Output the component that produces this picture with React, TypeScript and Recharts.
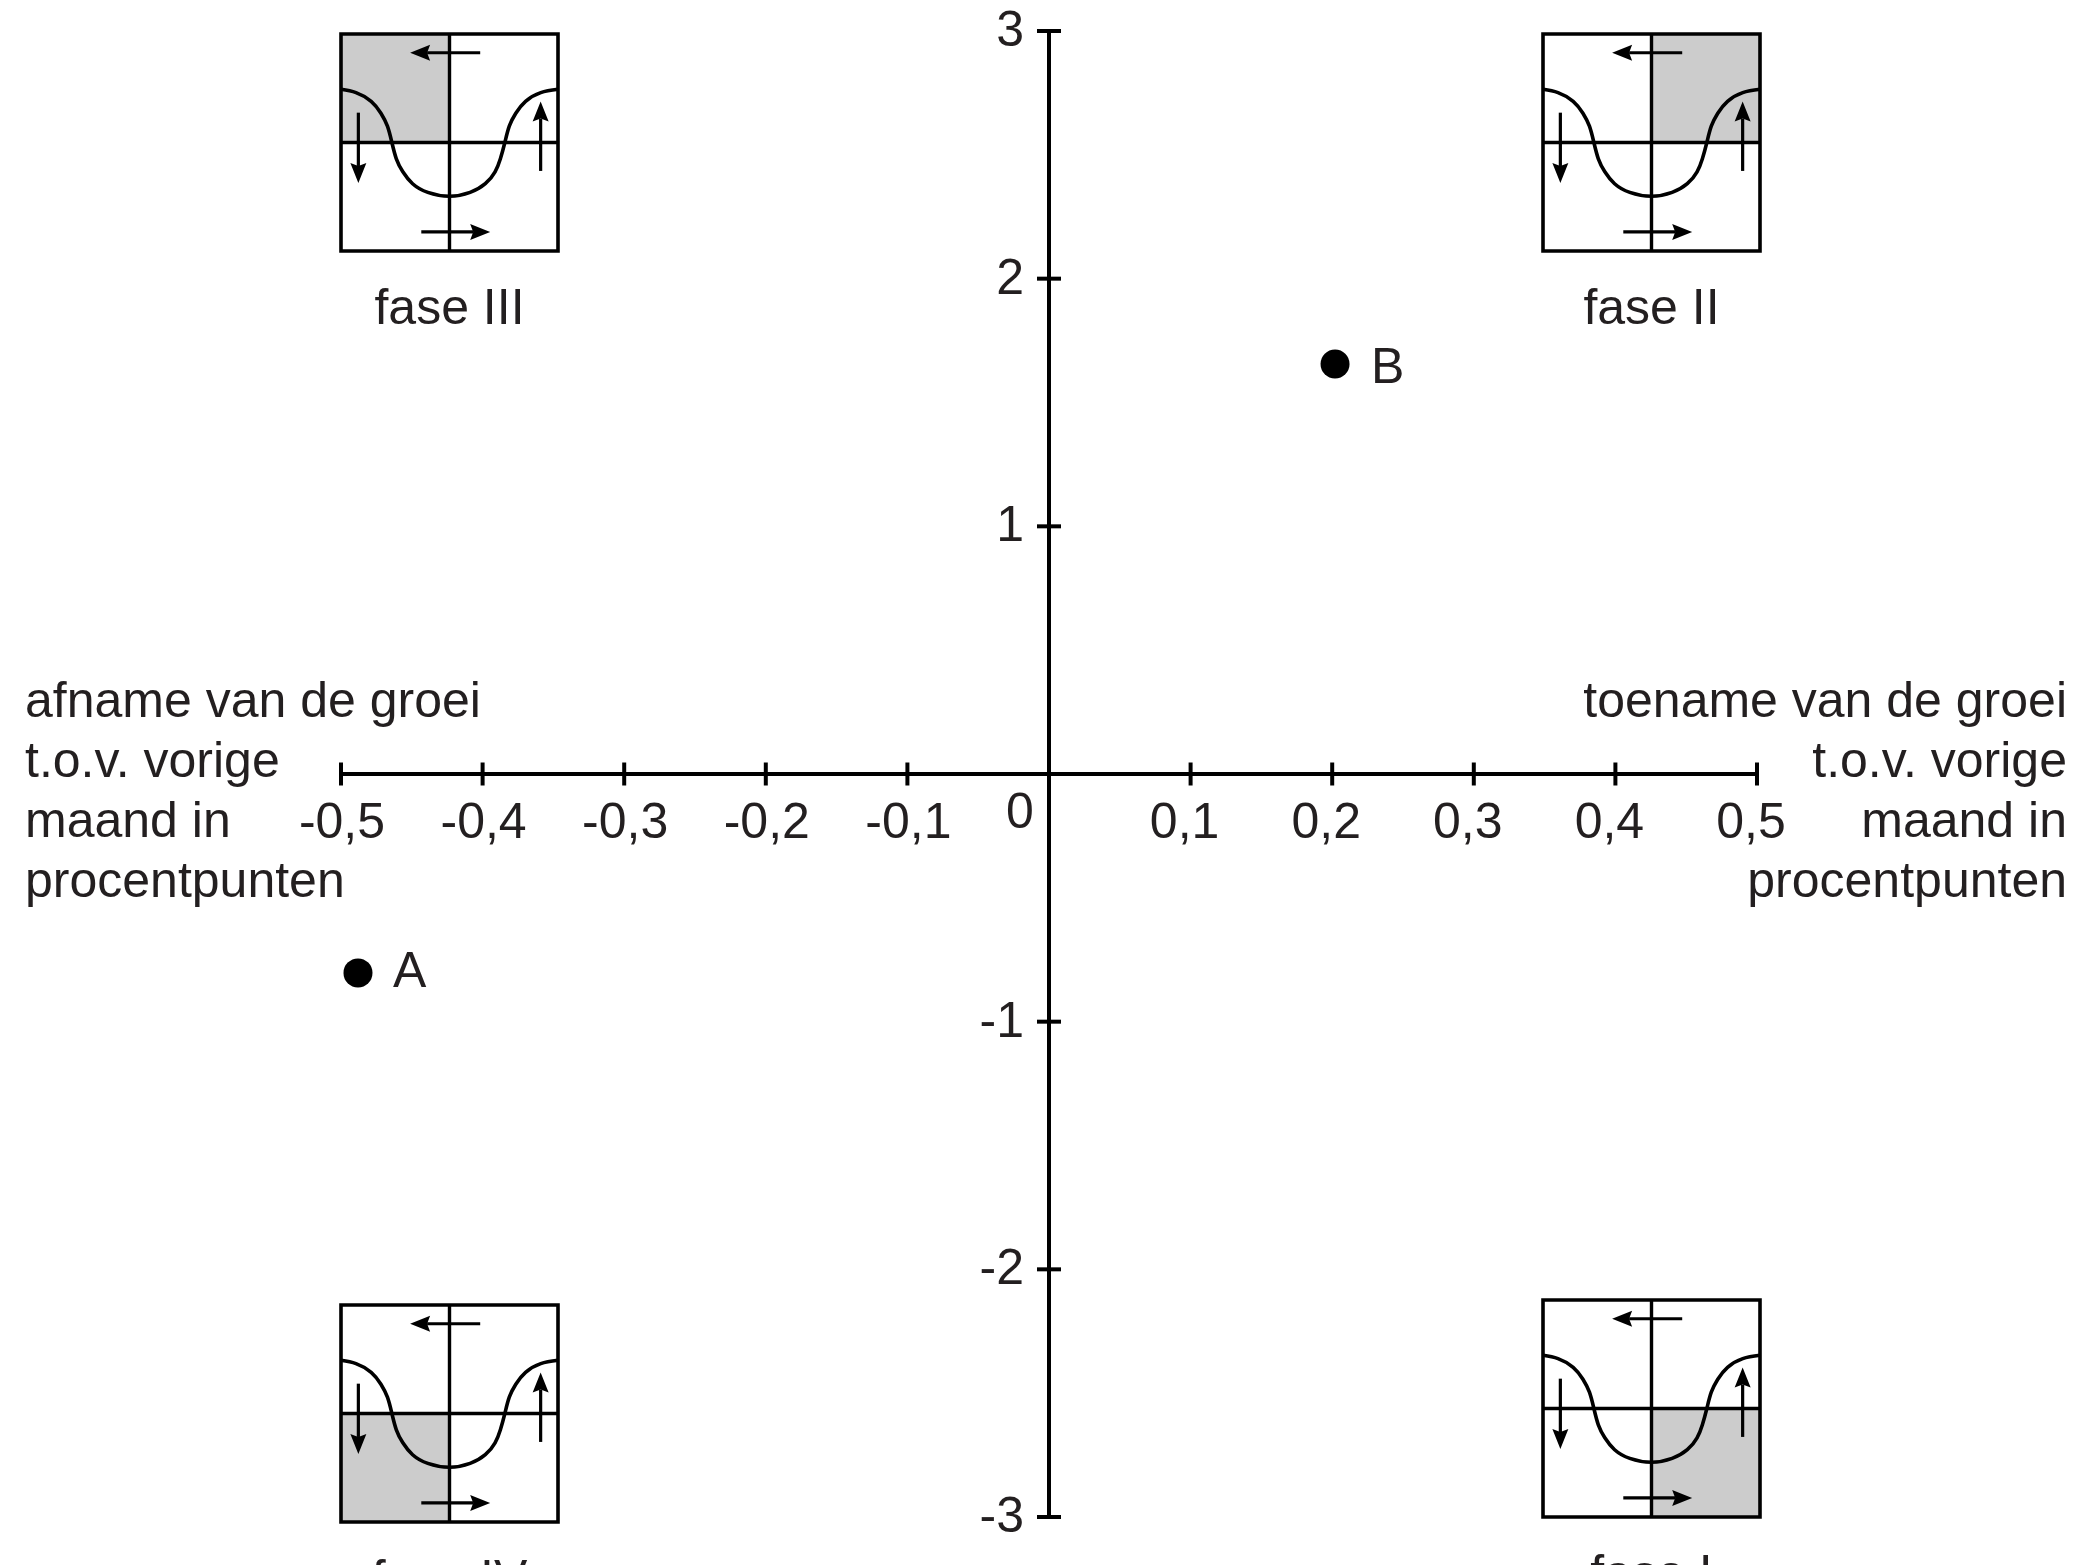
import React from 'react';
import {
  ScatterChart,
  Scatter,
  LineChart,
  Line,
  XAxis,
  YAxis,
  ReferenceLine,
  ReferenceArea,
} from 'recharts';

const xTicks = [-0.5, -0.4, -0.3, -0.2, -0.1, 0, 0.1, 0.2, 0.3, 0.4, 0.5];
const yTicks = [-3, -2, -1, 1, 2, 3];

const pointA = [{ x: -0.488, y: -0.803, name: 'A' }];
const pointB = [{ x: 0.202, y: 1.655, name: 'B' }];

const leftNote = ['afname van de groei', 't.o.v. vorige', 'maand in', 'procentpunten'];
const rightNote = ['toename van de groei', 't.o.v. vorige', 'maand in', 'procentpunten'];

// cycle curve in the small phase diagrams
const curveX = [-1, -0.862, -0.722, -0.632, -0.572, -0.531, -0.49, -0.43, -0.34, -0.2, 0, 0.19, 0.33, 0.42, 0.469, 0.51, 0.551, 0.611, 0.701, 0.841, 1];
const curveY = [0.49, 0.46, 0.38, 0.27, 0.15, 0, -0.15, -0.27, -0.38, -0.46, -0.495, -0.46, -0.38, -0.27, -0.15, 0, 0.15, 0.27, 0.38, 0.46, 0.49];
const curveData = curveX.map((x, i) => ({ x, y: curveY[i] }));

// the four arrows round the cycle: [x1, y1, x2, y2]
const arrows = [
  [0.283, 0.827, -0.363, 0.827],
  [-0.26, -0.824, 0.375, -0.824],
  [-0.84, 0.275, -0.84, -0.373],
  [0.84, -0.262, 0.84, 0.377],
];

const phases = [
  { name: 'fase III', left: 341, top: 34, x: [-1, 0], y: [0, 1] },
  { name: 'fase II', left: 1543, top: 34, x: [0, 1], y: [0, 1] },
  { name: 'fase IV', left: 341, top: 1305, x: [-1, 0], y: [-1, 0] },
  { name: 'fase I', left: 1543, top: 1300, x: [0, 1], y: [-1, 0] },
];

const WIDTH = 2081;
const HEIGHT = 1565;
const PLOT = { left: 341, top: 31, width: 1416, height: 1486 };
const INK = '#000';
const TEXT = '#231f20';
const FONT = '"Liberation Sans", Arial, sans-serif';
const FONT_SIZE = 50;
const INSET = 217;
const INSET_PAD = 4;

const zeroX = PLOT.left + PLOT.width / 2;
const zeroY = PLOT.top + PLOT.height / 2;

const tickText = (v: number) => (v === 0 ? '0' : v.toFixed(1).replace('.', ','));

const XTick = ({ x, payload }: any) => {
  if (payload.value === 0) {
    return (
      <text x={x - 29} y={zeroY + 54} textAnchor="middle" fontFamily={FONT} fontSize={FONT_SIZE} fill={TEXT}>
        0
      </text>
    );
  }
  // labels right of zero sit a little left of their tick in the original
  const dx = payload.value > 0 ? -6 : 1;
  return (
    <g>
      <line x1={x} x2={x} y1={zeroY - 11.5} y2={zeroY + 11.5} stroke={INK} strokeWidth={4} />
      <text x={x + dx} y={zeroY + 64} textAnchor="middle" fontFamily={FONT} fontSize={FONT_SIZE} fill={TEXT}>
        {tickText(payload.value)}
      </text>
    </g>
  );
};

const YTick = ({ y, payload }: any) => (
  <g>
    <line x1={zeroX - 12} x2={zeroX + 12} y1={y} y2={y} stroke={INK} strokeWidth={4} />
    <text x={zeroX - 25} y={y + 15} textAnchor="end" fontFamily={FONT} fontSize={FONT_SIZE} fill={TEXT}>
      {payload.value}
    </text>
  </g>
);

const pointShape = (labelDx: number, labelDy: number) => (props: any) => {
  const { cx, cy, payload } = props;
  return (
    <g>
      <circle cx={cx} cy={cy} r={14.5} fill={INK} />
      <text x={cx + labelDx} y={cy + labelDy} fontFamily={FONT} fontSize={FONT_SIZE} fill={TEXT}>
        {payload.name}
      </text>
    </g>
  );
};

const Arrow = (props: any) => {
  const { x1, y1, x2, y2 } = props;
  const len = Math.hypot(x2 - x1, y2 - y1);
  const ux = (x2 - x1) / len;
  const uy = (y2 - y1) / len;
  const bx = x2 - ux * 20;
  const by = y2 - uy * 20;
  const nx = x2 - ux * 17;
  const ny = y2 - uy * 17;
  const head = `M${x2},${y2} L${bx - uy * 8},${by + ux * 8} L${nx},${ny} L${bx + uy * 8},${by - ux * 8} Z`;
  return (
    <g>
      <line x1={x1} y1={y1} x2={nx} y2={ny} stroke={INK} strokeWidth={3.2} />
      <path d={head} fill={INK} />
    </g>
  );
};

const PhaseDiagram = ({ phase }: { phase: (typeof phases)[number] }) => (
  <div style={{ position: 'absolute', left: phase.left - INSET_PAD, top: phase.top - INSET_PAD }}>
    <LineChart
      width={INSET + INSET_PAD * 2}
      height={INSET + INSET_PAD * 2}
      data={curveData}
      margin={{ top: INSET_PAD, right: INSET_PAD, bottom: INSET_PAD, left: INSET_PAD }}
    >
      <XAxis dataKey="x" type="number" domain={[-1, 1]} hide />
      <YAxis dataKey="y" type="number" domain={[-1, 1]} hide />
      <ReferenceArea x1={phase.x[0]} x2={phase.x[1]} y1={phase.y[0]} y2={phase.y[1]} fill="#cccccc" fillOpacity={1} stroke="none" />
      <ReferenceLine x={0} stroke={INK} strokeWidth={3.4} />
      <ReferenceLine y={0} stroke={INK} strokeWidth={3.4} />
      <ReferenceArea x1={-1} x2={1} y1={-1} y2={1} fill="none" stroke={INK} strokeWidth={3.6} ifOverflow="visible" />
      {arrows.map((a, i) => (
        <ReferenceLine
          key={i}
          segment={[
            { x: a[0], y: a[1] },
            { x: a[2], y: a[3] },
          ]}
          shape={Arrow}
        />
      ))}
      <Line dataKey="y" type="natural" stroke={INK} strokeWidth={3.6} dot={false} isAnimationActive={false} />
    </LineChart>
  </div>
);

export default function App() {
  return (
    <div style={{ position: 'absolute', left: 0, top: 0, width: WIDTH, height: HEIGHT, overflow: 'hidden', background: '#fff' }}>
      <ScatterChart
        width={WIDTH}
        height={HEIGHT}
        margin={{
          top: PLOT.top,
          left: PLOT.left - 1,
          right: WIDTH - PLOT.left - PLOT.width,
          bottom: HEIGHT - PLOT.top - PLOT.height - 1,
        }}
      >
        <XAxis
          dataKey="x"
          type="number"
          domain={[-0.5, 0.5]}
          ticks={xTicks}
          interval={0}
          height={1}
          axisLine={false}
          tickLine={false}
          tickSize={0}
          tick={XTick}
        />
        <YAxis
          dataKey="y"
          type="number"
          domain={[-3, 3]}
          ticks={yTicks}
          interval={0}
          width={1}
          axisLine={false}
          tickLine={false}
          tickSize={0}
          tick={YTick}
        />
        <ReferenceLine x={0} stroke={INK} strokeWidth={4} ifOverflow="visible" />
        <ReferenceLine y={0} stroke={INK} strokeWidth={4} ifOverflow="visible" />
        <Scatter data={pointA} shape={pointShape(35, 14)} isAnimationActive={false} />
        <Scatter data={pointB} shape={pointShape(36, 19)} isAnimationActive={false} />
      </ScatterChart>

      {phases.map((p) => (
        <PhaseDiagram key={p.name} phase={p} />
      ))}

      <svg width={WIDTH} height={HEIGHT} style={{ position: 'absolute', left: 0, top: 0, pointerEvents: 'none' }}>
        <g fontFamily={FONT} fontSize={FONT_SIZE} fill={TEXT}>
          {leftNote.map((line, i) => (
            <text key={i} x={25} y={717 + i * 60}>
              {line}
            </text>
          ))}
          {rightNote.map((line, i) => (
            <text key={i} x={2067} y={717 + i * 60} textAnchor="end">
              {line}
            </text>
          ))}
          {phases.map((p) => (
            <text key={p.name} x={p.left + INSET / 2} y={p.top + 290} textAnchor="middle">
              {p.name}
            </text>
          ))}
        </g>
      </svg>
    </div>
  );
}
